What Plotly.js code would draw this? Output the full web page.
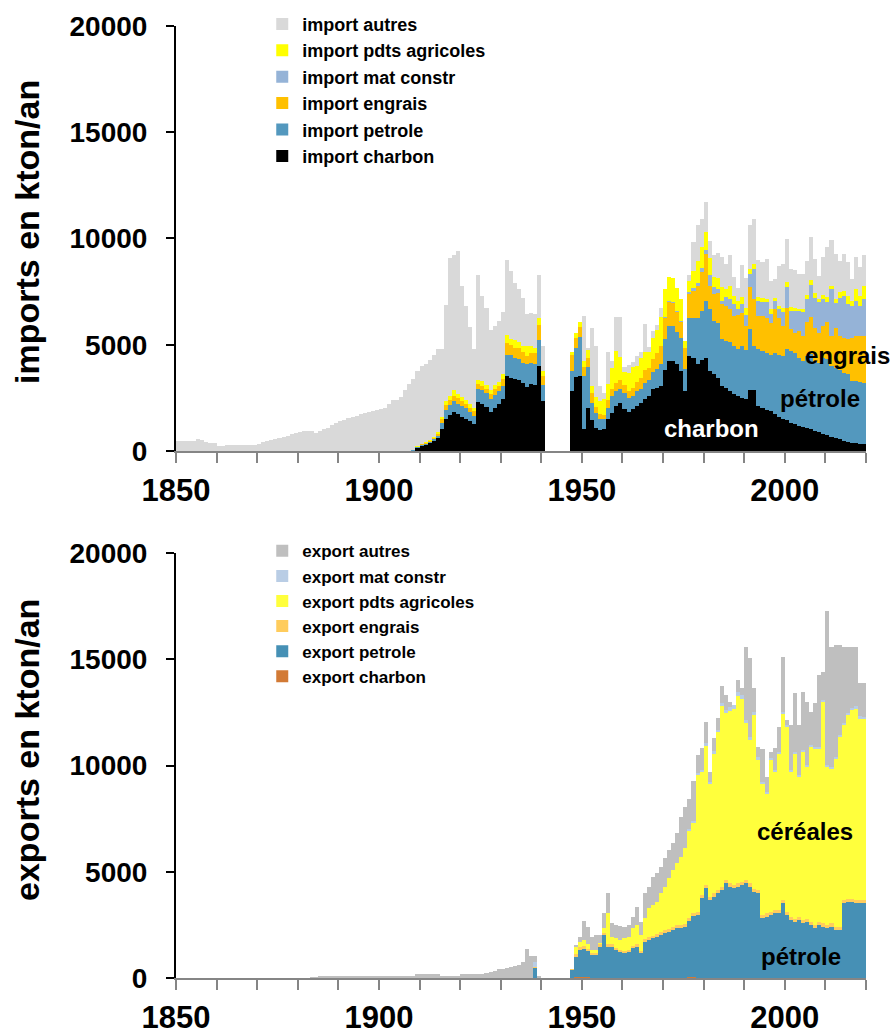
<!DOCTYPE html>
<html>
<head>
<meta charset="utf-8">
<script src="https://cdn.plot.ly/plotly-3.0.1.min.js"></script>
<style>html,body{margin:0;padding:0;background:#fff;}#chart{width:896px;height:1034px;}</style>
</head>
<body>
<div id="chart"></div>
<script>
// Years 1850..2019 (category axis)
const years = Array.from({length: 170}, (_, i) => 1850 + i);
const N = null;

// ---------- IMPORTS (kton/an), one value per year 1850..2019 ----------
const impCharbon = [
0,0,0,0,0,0,0,0,0,0, 0,0,0,0,0,0,0,0,0,0, 0,0,0,0,0,0,0,0,0,0, 0,0,0,0,0,0,0,0,0,0, 0,0,0,0,0,0,0,0,0,0,
0,0,0,0,0,0,0,0,0,125,
220,280,360,470,630,1020,1490,1680,1830,1720,
1610,1490,1410,1250,2300,2190,2080,1830,2040,2190,
2430,3520,3440,3370,3330,3210,3000,3130,3100,3990,
2350,N,N,N,N,N,N,2810,3490,3520,
1030,2040,1470,1070,1000,1050,1490,1770,2110,2270,
1960,1830,1960,2110,2270,2430,2610,2900,2970,3050,
3830,4230,4230,4070,3760,2810,4460,4380,4070,4300,
4380,3760,3600,3440,3040,2970,2810,2700,2570,2490,
2440,2890,2890,2100,2020,1940,1860,1750,1620,1500,
1470,1340,1260,1180,1120,1060,1030,960,870,800,
760,680,600,550,490,430,390,360,330,320];

const impPetrole = [
0,0,0,0,0,0,0,0,0,0, 0,0,0,0,0,0,0,0,0,0, 0,0,0,0,0,0,0,0,0,0, 0,0,0,0,0,0,0,0,0,0, 0,0,0,0,0,0,0,0,0,0,
0,0,0,0,0,0,0,0,60,50,
60,60,70,80,90,310,440,470,520,500,
500,520,420,390,640,660,630,600,600,630,
630,1020,1060,1020,1000,940,1110,990,970,1250,
740,N,N,N,N,N,N,950,1370,1830,
2500,1900,800,700,500,450,550,800,700,650,
750,650,650,700,650,750,750,800,900,1050,
1450,1650,1650,1550,1550,1050,1800,1900,2200,2300,
2680,2900,2500,2600,2210,2210,2320,2240,2240,2440,
2330,2840,2050,2680,2680,2680,2680,2870,2920,2970,
3310,3360,3360,3200,3110,3410,3520,3260,3280,3580,
3550,3310,3310,3280,3190,3170,2890,2920,2900,2890];

const impEngrais = [
0,0,0,0,0,0,0,0,0,0, 0,0,0,0,0,0,0,0,0,0, 0,0,0,0,0,0,0,0,0,0, 0,0,0,0,0,0,0,0,0,0, 0,0,0,0,0,0,0,0,0,0,
0,0,0,0,0,0,0,0,0,30,
30,40,50,60,80,190,220,250,240,250,
240,220,200,240,220,200,190,240,270,240,
310,550,500,470,520,500,340,500,520,700,
440,N,N,N,N,N,N,760,470,470,
430,450,470,300,250,200,350,350,400,400,
400,350,350,450,500,650,550,650,750,850,
1000,1150,1100,900,750,1000,1150,1250,1500,1800,
2200,1100,1300,1400,1660,1660,1550,1420,1580,1550,
1100,1970,2210,1580,1660,1660,1500,2050,1740,1420,
1970,1030,950,1260,1180,1580,1740,1580,1420,1500,
1740,1420,1890,1580,1660,1660,2050,2130,2180,2210];

const impMatConstr = [
0,0,0,0,0,0,0,0,0,0, 0,0,0,0,0,0,0,0,0,0, 0,0,0,0,0,0,0,0,0,0, 0,0,0,0,0,0,0,0,0,0, 0,0,0,0,0,0,0,0,0,0,
0,0,0,0,0,0,0,0,0,0, 0,0,0,0,0,0,0,0,0,0, 0,0,0,0,0,0,0,0,0,0, 0,0,0,0,0,0,0,0,0,0,
0,N,N,N,N,N,N,0,0,0,
0,0,0,0,0,0,0,0,0,0, 0,0,0,0,0,0,0,0,0,0,
30,50,50,50,50,0,80,120,150,200,
200,500,300,200,160,390,470,550,280,430,
550,630,1420,710,630,710,390,390,390,630,
950,870,1030,950,1140,1100,1500,1420,1420,1260,
950,2210,1180,1810,1970,1660,1500,1660,1420,1740];

const impPdtsAgricoles = [
0,0,0,0,0,0,0,0,0,0, 0,0,0,0,0,0,0,0,0,0, 0,0,0,0,0,0,0,0,0,0, 0,0,0,0,0,0,0,0,0,0, 0,0,0,0,0,0,0,0,0,0,
0,0,0,0,0,0,0,0,0,30,
30,40,60,60,80,60,190,190,270,190,
190,160,160,160,200,240,190,190,200,200,
240,360,280,360,280,310,470,310,270,340,
240,N,N,N,N,N,N,160,210,240,
280,350,320,450,600,750,750,1000,1500,1100,
600,850,1000,750,950,850,750,950,1050,1350,
1300,1100,1100,1100,1050,310,500,800,1000,1000,
840,800,500,500,630,390,630,390,390,320,
320,240,240,160,190,160,240,160,160,190,
240,160,130,80,130,190,240,210,160,190,
240,160,190,240,240,390,240,550,470,600];

const impAutres = [
470,470,470,470,470,560,520,440,390,360,
250,250,260,260,260,270,280,280,300,260,
340,400,450,500,550,620,680,720,800,850,
900,950,950,960,850,950,1050,1100,1200,1300,
1400,1450,1550,1600,1650,1720,1780,1850,1900,1950,
1960,2030,2200,2390,2400,2550,2850,3150,3340,3515,
3650,3650,3760,3830,3920,3220,4540,6490,6370,6730,
5240,4420,3630,2760,4930,4020,3640,2810,2790,2840,
2920,3550,3170,2680,2510,2240,1530,1570,1590,2010,
1160,N,N,N,N,N,N,0,0,0,
2090,100,2750,2400,700,300,1500,300,1600,1900,
250,350,250,450,300,1300,250,350,250,450,
0,0,0,0,0,0,300,1400,1700,1300,
1420,800,1000,1200,1420,1180,1420,870,630,1530,
1420,2050,2100,1740,1700,1890,1340,870,1890,2100,
2050,1810,1770,1660,1660,1620,2050,1610,1100,1780,
2370,2130,2100,1500,1740,1580,1030,1500,1340,1450];

// ---------- EXPORTS (kton/an) ----------
const expCharbon = [
0,0,0,0,0,0,0,0,0,0, 0,0,0,0,0,0,0,0,0,0, 0,0,0,0,0,0,0,0,0,0, 0,0,0,0,0,0,0,0,0,0, 0,0,0,0,0,0,0,0,0,0,
0,0,0,0,0,0,0,0,0,0, 0,0,0,0,0,0,0,0,0,0, 0,0,0,0,0,0,0,0,0,0, 0,0,0,0,0,0,0,0,0,0,
0,N,N,N,N,N,N,0,60,60,
60,40,0,0,0,0,0,0,0,0,
0,0,0,0,0,0,0,0,0,0,
0,0,0,0,0,0,30,30,0,0,
0,0,0,0,0,0,0,0,0,0, 0,0,0,0,0,0,0,0,0,0, 0,0,0,0,0,0,0,0,0,0, 0,0,0,0,0,0,0,0,0,0];

const expPetrole = [
0,0,0,0,0,0,0,0,0,0, 0,0,0,0,0,0,0,0,0,0, 0,0,0,0,0,0,0,0,0,0, 0,0,0,0,0,0,0,0,0,0, 0,0,0,0,0,0,0,0,0,0,
0,0,0,0,0,0,0,0,0,0, 0,0,0,0,0,0,0,0,0,0, 0,0,0,0,0,0,0,0,0,0,
0,0,0,0,0,0,0,0,450,0,
0,N,N,N,N,N,N,380,950,1250,
1320,1240,1080,1080,1480,2020,1480,1480,1320,1240,
1160,1240,1400,1480,1160,1710,1790,1870,1950,2020,
2130,2180,2260,2340,2340,2420,2650,2890,2970,3750,
4220,3670,3830,3990,4140,4460,4300,4220,4300,4380,
4460,4300,4060,3990,2810,2890,2970,3040,3040,3520,
2970,2730,2650,2730,2570,2650,2500,2340,2500,2420,
2340,2420,2260,2260,3520,3590,3590,3520,3520,3520];

const expEngrais = [
0,0,0,0,0,0,0,0,0,0, 0,0,0,0,0,0,0,0,0,0, 0,0,0,0,0,0,0,0,0,0, 0,0,0,0,0,0,0,0,0,0, 0,0,0,0,0,0,0,0,0,0,
0,0,0,0,0,0,0,0,0,0, 0,0,0,0,0,0,0,0,0,0, 0,0,0,0,0,0,0,0,0,0,
0,0,0,0,0,0,0,0,60,0,
0,N,N,N,N,N,N,30,100,150,
120,100,80,80,100,100,100,100,100,100,
100,100,100,100,100,120,120,120,120,130,
130,130,130,140,140,140,140,140,140,150,
150,150,150,150,150,150,150,150,150,150,
150,150,150,150,150,150,150,150,150,150,
150,150,150,150,150,150,150,150,150,150,
150,150,150,150,150,150,150,150,150,150];

const expPdtsAgricoles = [
0,0,0,0,0,0,0,0,0,0, 0,0,0,0,0,0,0,0,0,0, 0,0,0,0,0,0,0,0,0,0, 0,0,0,0,0,0,0,0,0,0, 0,0,0,0,0,0,0,0,0,0,
0,0,0,0,0,0,0,0,0,0, 0,0,0,0,0,0,0,0,0,0, 0,0,0,0,0,0,0,0,0,0, 0,0,0,0,0,0,0,0,0,0,
0,N,N,N,N,N,N,30,340,240,
270,210,160,160,60,210,1470,370,450,450,
610,610,840,920,760,980,1370,1450,1530,1830,
2040,2380,2690,2920,3230,3550,4100,4250,6430,5790,
6560,5320,6580,7440,8520,7860,8120,8280,8830,8590,
7390,6760,8170,6130,6170,5630,7120,6500,7360,8770,
8690,6810,7750,6580,7910,7120,8220,8300,8140,10420,
7440,7280,7910,8930,8220,8620,8850,9010,8540,8500];

const expMatConstr = [
0,0,0,0,0,0,0,0,0,0, 0,0,0,0,0,0,0,0,0,0, 0,0,0,0,0,0,0,0,0,0, 0,0,0,0,0,0,0,0,0,0, 0,0,0,0,0,0,0,0,0,0,
0,0,0,0,0,0,0,0,0,0, 0,0,0,0,0,0,0,0,0,0, 0,0,0,0,0,0,0,0,0,0,
0,0,0,0,0,0,0,0,230,0,
0,N,N,N,N,N,N,0,0,0,
0,0,0,0,0,0,0,0,0,0, 0,0,0,0,0,0,0,0,0,0,
0,0,0,0,0,0,80,80,100,100,
120,100,100,100,120,150,200,200,200,200,
150,150,150,150,100,100,100,100,100,100,
100,100,100,100,100,100,100,100,100,100,
100,100,100,100,100,100,100,100,100,100];

const expAutres = [
0,0,0,0,0,0,0,0,0,0, 0,0,0,0,0,0,0,0,0,0, 0,0,0,0,0,0,0,0,0,0,
0,0,0,50,50,100,100,100,100,100,
100,100,100,100,100,100,100,100,100,100,
100,100,100,100,100,100,100,100,100,190,
190,190,190,190,190,100,100,100,100,100,
170,170,170,170,170,170,250,300,350,400,
420,450,500,550,600,770,1370,1050,300,100,
0,N,N,N,N,N,N,0,80,240,
910,790,630,710,390,710,940,630,630,660,
550,550,550,860,630,1180,1020,1330,1330,1260,
1330,1330,1260,1410,1880,1960,1410,1880,860,1020,
1020,470,630,550,790,710,240,0,550,310,
3450,3690,1100,470,1570,710,310,1020,1180,2590,
240,2120,2750,2350,2750,2980,1570,2040,3370,1330,
7220,5650,5260,4240,3610,3140,2900,2820,1570,1600];

// Labels
const impNames = ['import charbon','import petrole','import engrais','import mat constr','import pdts agricoles','import autres'];
const impColors = ['#000000','#5398BE','#FFC000','#95B3D7','#FFFF00','#D9D9D9'];
const expNames = ['export charbon','export petrole','export engrais','export pdts agricoles','export mat constr','export autres'];
const expColors = ['#D27A35','#4690B5','#FFCC5C','#FFFF3C','#B9CDE5','#BFBFBF'];
const yTicks = [0,5000,10000,15000,20000];
const xTickYears = [1850,1860,1870,1880,1890,1900,1910,1920,1930,1940,1950,1960,1970,1980,1990,2000,2010,2020];
const xLabelYears = [1850,1900,1950,2000];

const impSeries = [impCharbon, impPetrole, impEngrais, impMatConstr, impPdtsAgricoles, impAutres];
const expSeries = [expCharbon, expPetrole, expEngrais, expPdtsAgricoles, expMatConstr, expAutres];

const FONT = 'Liberation Sans, Arial, Helvetica, sans-serif';
const traces = [];
impSeries.forEach((s, i) => traces.push({
  type: 'bar', x: years, y: s, name: impNames[i], xaxis: 'x', yaxis: 'y', legend: 'legend',
  marker: {color: impColors[i], line: {width: 0}}, hoverinfo: 'skip'
}));
expSeries.forEach((s, i) => traces.push({
  type: 'bar', x: years, y: s, name: expNames[i], xaxis: 'x2', yaxis: 'y2', legend: 'legend2',
  marker: {color: expColors[i], line: {width: 0}}, hoverinfo: 'skip'
}));

const tickvalsX = xTickYears.map(y => y - 0.5);
const ticktextX = xTickYears.map(y => xLabelYears.includes(y) ? String(y) : '');

function xaxisDef(anchor) {
  return {
    anchor: anchor, domain: [0, 1], range: [1849.5, 2019.5],
    showline: true, linecolor: '#858585', linewidth: 2,
    ticks: 'outside', ticklen: 10, tickwidth: 2, tickcolor: '#858585',
    tickvals: tickvalsX, ticktext: ticktextX,
    tickfont: {family: FONT, size: 31, color: '#000', weight: 'bold'},
    ticklabelstandoff: 1,
    showgrid: false, zeroline: false, fixedrange: true, automargin: false
  };
}
function yaxisDef(anchor, domain) {
  return {
    anchor: anchor, domain: domain, range: [0, 20000],
    showline: true, linecolor: '#000', linewidth: 2,
    ticks: 'outside', ticklen: 8, tickwidth: 2, tickcolor: '#000',
    tickvals: yTicks, ticktext: yTicks.map(String),
    tickfont: {family: FONT, size: 28, color: '#000', weight: 'bold'},
    ticklabelstandoff: 13,
    showgrid: false, zeroline: false, fixedrange: true, automargin: false
  };
}

const layout = {
  width: 896, height: 1034,
  margin: {l: 176, r: 30, t: 26, b: 56, autoexpand: false},
  paper_bgcolor: '#ffffff', plot_bgcolor: '#ffffff',
  barmode: 'stack', bargap: 0,
  showlegend: true,
  xaxis: xaxisDef('y'),
  yaxis: yaxisDef('x', [0.5536, 1]),
  xaxis2: xaxisDef('y2'),
  yaxis2: yaxisDef('x2', [0, 0.4464]),
  legend: {
    x: 0.125, y: 1.0213, xanchor: 'left', yanchor: 'top',
    traceorder: 'reversed', bgcolor: 'rgba(0,0,0,0)',
    font: {family: FONT, size: 18, color: '#000', weight: 'bold'},
    itemwidth: 30, tracegroupgap: 0
  },
  legend2: {
    x: 0.125, y: 0.4672, xanchor: 'left', yanchor: 'top',
    traceorder: 'reversed', bgcolor: 'rgba(0,0,0,0)',
    font: {family: FONT, size: 17, color: '#000', weight: 'bold'},
    itemwidth: 30, tracegroupgap: 0
  },
  annotations: [
    {text: 'imports en kton/an', xref: 'paper', yref: 'paper', x: -0.216, y: 0.7836,
     textangle: -90, showarrow: false, xanchor: 'center', yanchor: 'middle',
     font: {family: FONT, size: 34, color: '#000', weight: 'bold'}},
    {text: 'exports en kton/an', xref: 'paper', yref: 'paper', x: -0.216, y: 0.2395,
     textangle: -90, showarrow: false, xanchor: 'center', yanchor: 'middle',
     font: {family: FONT, size: 34, color: '#000', weight: 'bold'}},
    {text: 'engrais', xref: 'paper', yref: 'paper', x: 0.9725, y: 0.6534, showarrow: false,
     xanchor: 'center', yanchor: 'middle', font: {family: FONT, size: 24, color: '#000', weight: 'bold'}},
    {text: 'pétrole', xref: 'paper', yref: 'paper', x: 0.9333, y: 0.6092, showarrow: false,
     xanchor: 'center', yanchor: 'middle', font: {family: FONT, size: 24, color: '#000', weight: 'bold'}},
    {text: 'charbon', xref: 'paper', yref: 'paper', x: 0.7768, y: 0.5767, showarrow: false,
     xanchor: 'center', yanchor: 'middle', font: {family: FONT, size: 24, color: '#fff', weight: 'bold'}},
    {text: 'céréales', xref: 'paper', yref: 'paper', x: 0.9116, y: 0.1544, showarrow: false,
     xanchor: 'center', yanchor: 'middle', font: {family: FONT, size: 24, color: '#000', weight: 'bold'}},
    {text: 'pétrole', xref: 'paper', yref: 'paper', x: 0.9058, y: 0.0221, showarrow: false,
     xanchor: 'center', yanchor: 'middle', font: {family: FONT, size: 24, color: '#000', weight: 'bold'}}
  ]
};

Plotly.newPlot('chart', traces, layout, {staticPlot: true, displayModeBar: false});
</script>
</body>
</html>
